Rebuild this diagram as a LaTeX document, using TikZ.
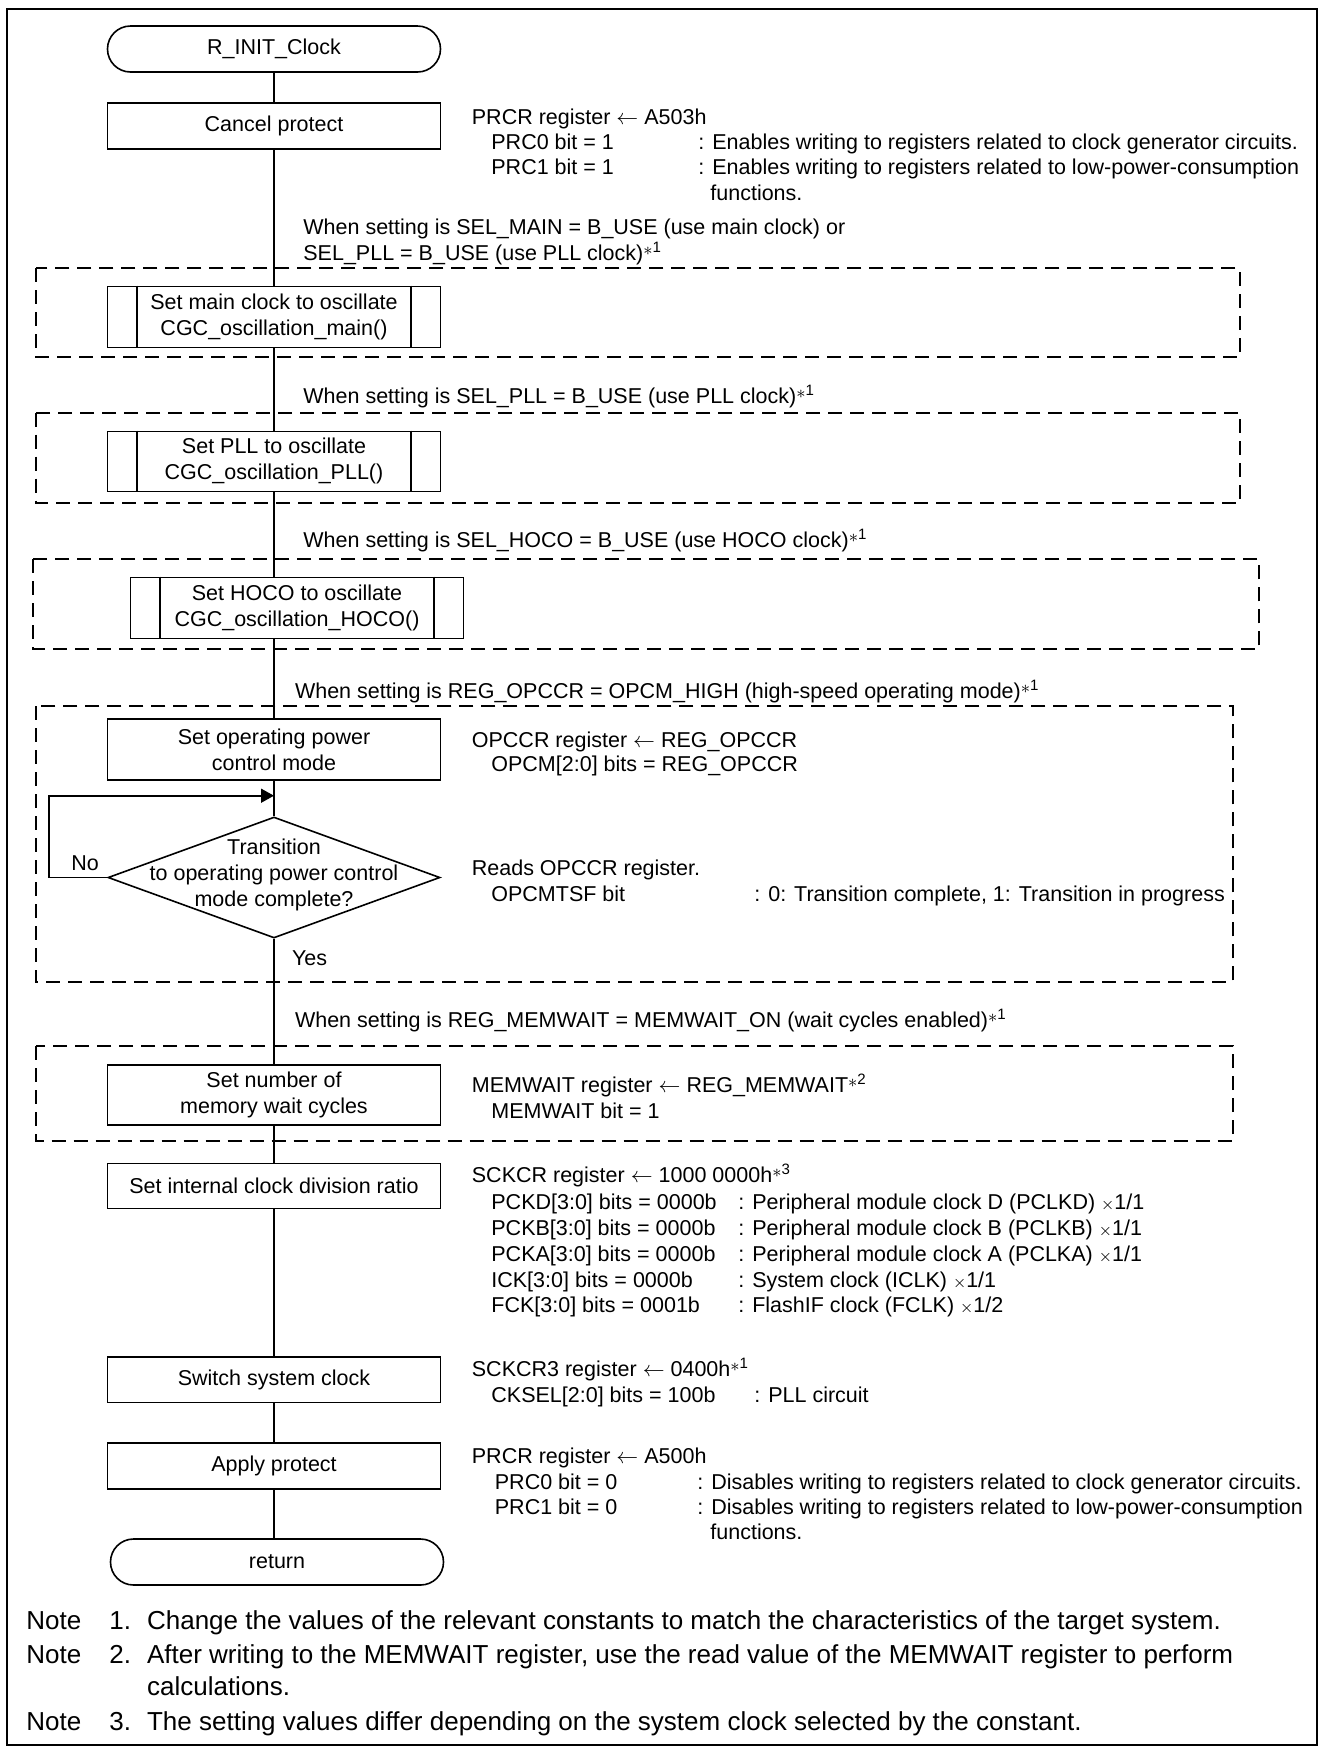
\documentclass[tikz,border=0pt]{standalone}
\usepackage{fontspec}
\setmainfont{Liberation Sans}
\usetikzlibrary{shapes.geometric,shapes.misc,arrows.meta}
\newcommand\fnm[1]{\raisebox{0.45ex}{\small$\ast$}\textsuperscript{#1}}
\newcommand\larr{$\leftarrow$}
\newcommand\tms{{\footnotesize$\times$}}
\begin{document}
\begin{tikzpicture}[x=0.5pt,y=-0.5pt,
 every node/.style={font=\fontsize{10.75pt}{13pt}\selectfont, inner sep=0pt},
 proc/.style={draw, line width=0.8pt, minimum width=166.5pt, align=center},
 term/.style={draw, rounded rectangle, line width=0.8pt, minimum width=166.5pt, minimum height=23pt},
 txt/.style={anchor=base west},
 flow/.style={line width=0.8pt},
 cond/.style={draw, line width=1pt, dash pattern=on 7pt off 4pt},
 note/.style={anchor=base west, font=\fontsize{13pt}{15pt}\selectfont}
]
\useasboundingbox (0,0) rectangle (1319,1746);
\draw[line width=1pt] (6.5,8.5) rectangle (1316.5,1745);

% dashed condition frames
\draw[cond] (36,268.3) rectangle (1240,357);
\draw[cond] (36,412.7) rectangle (1240,502.7);
\draw[cond] (33,559.3) rectangle (1259,649.3);
\draw[cond] (36,706) rectangle (1233,981.7);
\draw[cond] (36,1046) rectangle (1233,1140.5);

% flow nodes
\node[term] (start) at (274,49) {R\_INIT\_Clock};
\node[proc, minimum height=23pt] (cancel) at (274,126) {Cancel protect};
\node[proc, minimum height=30.5pt] (mainc) at (274,317) {Set main clock to oscillate\\CGC\_oscillation\_main()};
\node[proc, minimum height=30pt] (pll) at (274,461.3) {Set PLL to oscillate\\CGC\_oscillation\_PLL()};
\node[proc, minimum height=30.5pt] (hoco) at (297,608) {Set HOCO to oscillate\\CGC\_oscillation\_HOCO()};
\node[proc, minimum height=30.5pt] (opm) at (274,749.5) {Set operating power\\control mode};
\node[diamond, draw, flow, minimum width=166pt, minimum height=60.5pt, aspect=2.74] (dia) at (274,877.5) {};
\node[align=center] (diatxt) at (274,875) {Transition\\to operating power control\\mode complete?};
\node[proc, minimum height=30pt] (memw) at (274,1095) {Set number of\\memory wait cycles};
\node[proc, minimum height=22.5pt] (sckcr) at (274,1185.8) {Set internal clock division ratio};
\node[proc, minimum height=22.8pt] (switch) at (274,1379.5) {Switch system clock};
\node[proc, minimum height=22.8pt] (apply) at (274,1466) {Apply protect};
\node[term] (ret) at (277,1562) {return};

% subroutine side bars
\foreach \n in {mainc,pll,hoco}{
  \draw[flow] ([xshift=15.25pt]\n.north west) -- ([xshift=15.25pt]\n.south west);
  \draw[flow] ([xshift=-15.25pt]\n.north east) -- ([xshift=-15.25pt]\n.south east);
}

% connectors
\coordinate (merge) at (274,795.7);
\draw[flow] (start) -- (cancel);
\draw[flow] (cancel) -- (mainc);
\draw[flow] (mainc) -- (pll);
\draw[flow] (pll.south) -- (pll.south |- hoco.north);
\draw[flow] (pll.south |- hoco.south) -- (opm.north);
\draw[flow] (opm.south) -- (dia.north);
\draw[flow, -{Triangle[length=6.5pt,width=7pt]}] (dia.west) -- ++(-29.2pt,0) |- (merge);
\draw[flow] (dia.south) -- (memw.north);
\draw[flow] (memw) -- (sckcr);
\draw[flow] (sckcr) -- (switch);
\draw[flow] (switch) -- (apply);
\draw[flow] (apply.south) -- (apply.south |- ret.north);

\node[anchor=base] (no) at (85,870.7) {No};
\node[txt] (yes) at (291.7,965.7) {Yes};

% condition texts
\node[txt] (c1a) at (303,234.7) {When setting is SEL\_MAIN = B\_USE (use main clock) or};
\node[txt] (c1b) at (303,260.7) {SEL\_PLL = B\_USE (use PLL clock)\fnm{1}};
\node[txt] (c2) at (303,403.7) {When setting is SEL\_PLL = B\_USE (use PLL clock)\fnm{1}};
\node[txt] (c3) at (303,547.7) {When setting is SEL\_HOCO = B\_USE (use HOCO clock)\fnm{1}};
\node[txt] (c4) at (294.6,698.4) {When setting is REG\_OPCCR = OPCM\_HIGH (high-speed operating mode)\fnm{1}};
\node[txt] (c5) at (294.6,1027.7) {When setting is REG\_MEMWAIT = MEMWAIT\_ON (wait cycles enabled)\fnm{1}};

% register annotations
\node[txt] (r1) at (471.5,124.2) {PRCR register \larr\ A503h};
\node[txt] (r1a) at (491,149.4) {PRC0 bit = 1};
\node[txt] (r1b) at (698,149.4) {: Enables writing to registers related to clock generator circuits.};
\node[txt] (r1c) at (491,174.7) {PRC1 bit = 1};
\node[txt] (r1d) at (698,174.7) {: Enables writing to registers related to low-power-consumption};
\node[txt] (r1e) at (710,200.4) {functions.};

\node[txt] (r2) at (471.5,747.7) {OPCCR register \larr\ REG\_OPCCR};
\node[txt] (r2a) at (491,771.7) {OPCM[2:0] bits = REG\_OPCCR};

\node[txt] (r3) at (471.5,875.7) {Reads OPCCR register.};
\node[txt] (r3a) at (491,901.7) {OPCMTSF bit};
\node[txt] (r3b) at (754,901.7) {: 0: Transition complete, 1: Transition in progress};

\node[txt] (r4) at (471.5,1092.7) {MEMWAIT register \larr\ REG\_MEMWAIT\fnm{2}};
\node[txt] (r4a) at (491,1118.7) {MEMWAIT bit = 1};

\node[txt] (r5) at (471.5,1182.7) {SCKCR register \larr\ 1000 0000h\fnm{3}};
\node[txt] (r5a) at (491,1209.4) {PCKD[3:0] bits = 0000b};
\node[txt] (r5b) at (738,1209.4) {: Peripheral module clock D (PCLKD) \tms1/1};
\node[txt] (r5c) at (491,1235.7) {PCKB[3:0] bits = 0000b};
\node[txt] (r5d) at (738,1235.7) {: Peripheral module clock B (PCLKB) \tms1/1};
\node[txt] (r5e) at (491,1261) {PCKA[3:0] bits = 0000b};
\node[txt] (r5f) at (738,1261) {: Peripheral module clock A (PCLKA) \tms1/1};
\node[txt] (r5g) at (491,1287) {ICK[3:0] bits = 0000b};
\node[txt] (r5h) at (738,1287) {: System clock (ICLK) \tms1/1};
\node[txt] (r5i) at (491,1312) {FCK[3:0] bits = 0001b};
\node[txt] (r5j) at (738,1312) {: FlashIF clock (FCLK) \tms1/2};

\node[txt] (r6) at (471.5,1376.7) {SCKCR3 register \larr\ 0400h\fnm{1}};
\node[txt] (r6a) at (491,1402.7) {CKSEL[2:0] bits = 100b};
\node[txt] (r6b) at (754,1402.7) {: PLL circuit};

\node[txt] (r7) at (471.5,1463.7) {PRCR register \larr\ A500h};
\node[txt] (r7a) at (494.5,1489.7) {PRC0 bit = 0};
\node[txt] (r7b) at (697,1489.7) {: Disables writing to registers related to clock generator circuits.};
\node[txt] (r7c) at (494.5,1514.7) {PRC1 bit = 0};
\node[txt] (r7d) at (697,1514.7) {: Disables writing to registers related to low-power-consumption};
\node[txt] (r7e) at (710,1539.7) {functions.};

% notes
\node[note] (n1) at (26,1629) {Note};
\node[note] (n1n) at (109,1629) {1.};
\node[note] (n1t) at (146.7,1629) {Change the values of the relevant constants to match the characteristics of the target system.};
\node[note] (n2) at (26,1663) {Note};
\node[note] (n2n) at (109,1663) {2.};
\node[note] (n2t) at (146.7,1663) {After writing to the MEMWAIT register, use the read value of the MEMWAIT register to perform};
\node[note] (n2u) at (146.7,1695) {calculations.};
\node[note] (n3) at (26,1730.7) {Note};
\node[note] (n3n) at (109,1730.7) {3.};
\node[note] (n3t) at (146.7,1730.7) {The setting values differ depending on the system clock selected by the constant.};
\end{tikzpicture}
\end{document}
